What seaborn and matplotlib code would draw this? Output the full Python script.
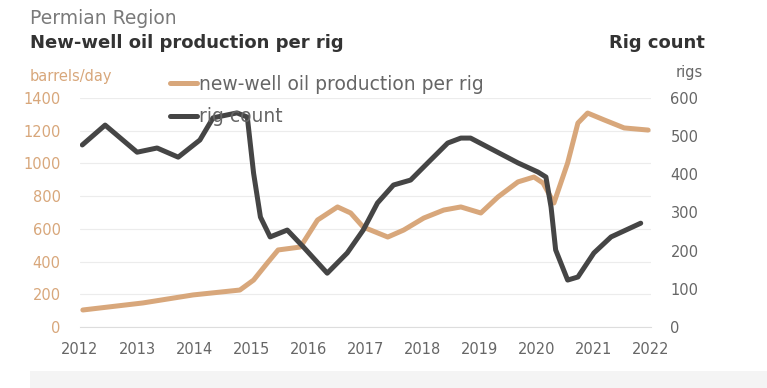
import matplotlib
matplotlib.use("Agg")
import matplotlib.pyplot as plt
import seaborn as sns
import pandas as pd
from matplotlib.patches import Rectangle

# ---- data ----
prod_years = [2012.05, 2013.1, 2013.98, 2014.8, 2015.04, 2015.28, 2015.47, 2015.86,
              2016.16, 2016.51, 2016.74, 2016.96, 2017.39, 2017.67, 2018.02, 2018.37,
              2018.67, 2019.02, 2019.32, 2019.67, 2019.95, 2020.11, 2020.3, 2020.54,
              2020.72, 2020.89, 2021.18, 2021.53, 2021.95]
prod_values = [104, 147, 196, 226, 287, 391, 471, 489,
               654, 734, 697, 611, 550, 593, 666, 715,
               734, 697, 795, 887, 917, 880, 758, 1003,
               1247, 1308, 1266, 1217, 1204]

rig_years = [2012.04, 2012.44, 2013.0, 2013.35, 2013.72, 2014.1, 2014.33, 2014.75,
             2014.93, 2015.04, 2015.16, 2015.33, 2015.63, 2015.91, 2016.33, 2016.68,
             2016.96, 2017.21, 2017.49, 2017.79, 2018.09, 2018.44, 2018.67, 2018.84,
             2019.07, 2019.67, 2020.02, 2020.16, 2020.25, 2020.33, 2020.54, 2020.72,
             2021.0, 2021.3, 2021.82]
rig_values = [477, 529, 458, 469, 445, 490, 548, 561,
              550, 403, 288, 236, 254, 210, 141, 194,
              254, 325, 372, 385, 430, 482, 495, 495,
              477, 430, 406, 393, 314, 202, 123, 131,
              194, 236, 272]

year_ticks = list(range(2012, 2023))
left_ticks = [0, 200, 400, 600, 800, 1000, 1200, 1400]
right_ticks = [0, 100, 200, 300, 400, 500, 600]

title_top = "Permian Region"
title_left = "New-well oil production per rig"
title_right = "Rig count"
unit_left = "barrels/day"
unit_right = "rigs"
label_prod = "new-well oil production per rig"
label_rig = "rig count"

ORANGE = "#d8a77b"
DARK = "#454545"
GRAY_TXT = "#666666"

sns.set_theme(style="white")
plt.rcParams["font.family"] = ["DejaVu Sans"]

prod_df = pd.DataFrame({"year": prod_years, "value": prod_values})
rig_df = pd.DataFrame({"year": rig_years, "value": rig_values})

fig = plt.figure(figsize=(7.67, 3.88), dpi=100)
ax = fig.add_axes([80 / 767, 1 - 327 / 388, (651 - 80) / 767, (327 - 98) / 388])
ax2 = ax.twinx()

sns.lineplot(data=prod_df, x="year", y="value", ax=ax, color=ORANGE, linewidth=3.6,
             label=label_prod, legend=False)
sns.lineplot(data=rig_df, x="year", y="value", ax=ax2, color=DARK, linewidth=3.6,
             label=label_rig, legend=False)
for a in (ax, ax2):
    for ln in a.get_lines():
        ln.set_solid_joinstyle("round")
        ln.set_solid_capstyle("round")

ax.set_xlim(2012, 2022)
ax.set_ylim(0, 1400)
ax2.set_ylim(0, 600)
ax.set_xticks(year_ticks)
ax.set_xticklabels([str(y) for y in year_ticks])
ax.set_yticks(left_ticks)
ax.set_yticklabels([str(v) for v in left_ticks])
ax2.set_yticks(right_ticks)
ax2.set_yticklabels([str(v) for v in right_ticks])

ax.set_xlabel("")
ax.set_ylabel("")
ax2.set_ylabel("")

ax.grid(axis="y", color="#ececec", linewidth=0.8)
ax.set_axisbelow(True)
for a in (ax, ax2):
    for s in ("top", "left", "right", "bottom"):
        a.spines[s].set_visible(False)
ax.spines["bottom"].set_visible(True)
ax.spines["bottom"].set_color("#dddddd")
ax.spines["bottom"].set_linewidth(0.8)

ax.tick_params(axis="x", colors=GRAY_TXT, labelsize=10.5, length=0, pad=11)
ax.tick_params(axis="y", colors=ORANGE, labelsize=10.5, length=0, pad=14)
ax2.tick_params(axis="y", colors=GRAY_TXT, labelsize=10.5, length=0, pad=14)

# titles
fig.text(30 / 767, 1 - 18 / 388, title_top, fontsize=13.5, color="#7a7a7a", va="center", ha="left")
fig.text(30 / 767, 1 - 43 / 388, title_left, fontsize=13, fontweight="bold",
         color="#333333", va="center", ha="left")
fig.text(705 / 767, 1 - 43 / 388, title_right, fontsize=13, fontweight="bold",
         color="#333333", va="center", ha="right")
fig.text(30 / 767, 1 - 77 / 388, unit_left, fontsize=10.5, color=ORANGE, va="center", ha="left")
fig.text(703 / 767, 1 - 72 / 388, unit_right, fontsize=10.5, color=GRAY_TXT, va="center", ha="right")

# legend
h1, l1 = ax.get_legend_handles_labels()
h2, l2 = ax2.get_legend_handles_labels()
fig.legend(h1 + h2, l1 + l2, loc="upper left", bbox_to_anchor=(170 / 767, 1 - 75 / 388),
           frameon=False, fontsize=13.5, labelcolor=GRAY_TXT, handlelength=1.45,
           handletextpad=0.1, labelspacing=0.72, borderaxespad=0, borderpad=0)

# footer band
fig.patches.append(Rectangle((30 / 767, 0), 1, 17 / 388, transform=fig.transFigure,
                             facecolor="#f4f4f4", edgecolor="none", zorder=0))

fig.savefig("out.png", dpi=100)
